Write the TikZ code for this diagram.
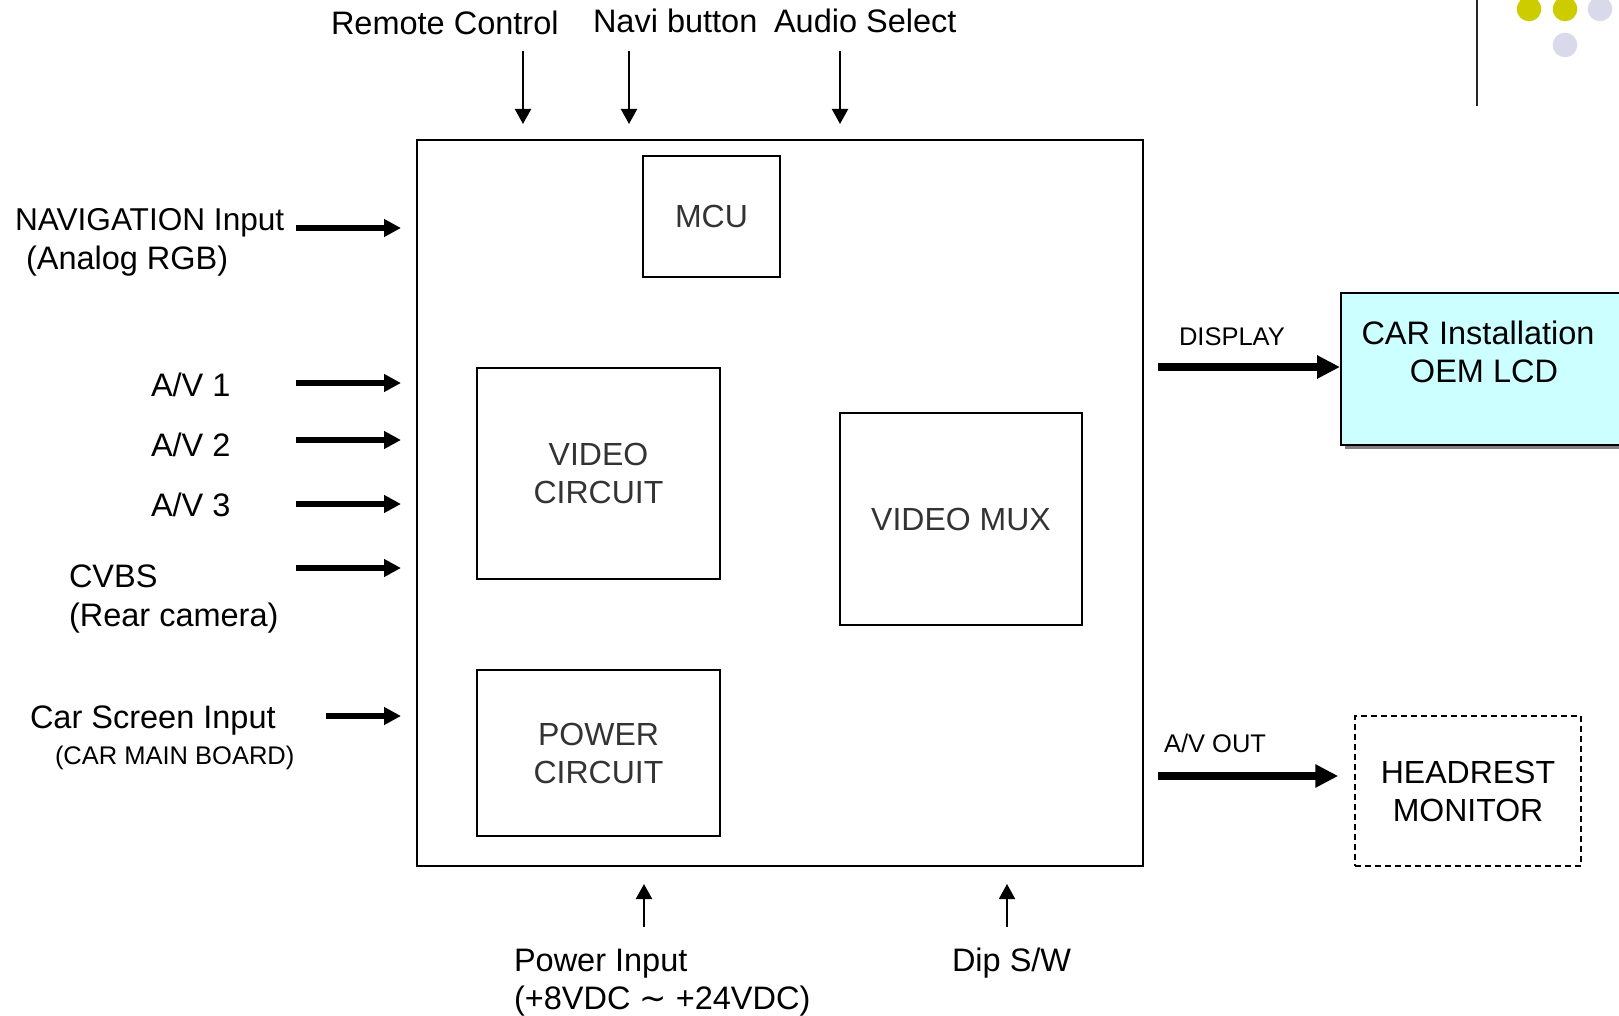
\documentclass[tikz,border=0pt]{standalone}
\usepackage{fontspec}
\setmainfont{Liberation Sans}
\newfontfamily\symfont{DejaVu Sans}
\usetikzlibrary{arrows.meta,shadows}

\definecolor{lcdcyan}{RGB}{204,255,255}
\definecolor{dotyel}{RGB}{204,204,0}
\definecolor{dotlav}{RGB}{217,217,236}

\begin{document}
\begin{tikzpicture}[x=1pt,y=-1pt,line width=2pt,
  blk/.style={draw,rectangle,align=center,inner sep=0pt,text=black!80,
    font=\fontsize{32}{38}\selectfont},
  lbl/.style={anchor=base west,inner sep=0pt,font=\fontsize{32.5}{38}\selectfont},
  slbl/.style={lbl,font=\fontsize{25.5}{30}\selectfont},
  lcdbox/.style={draw,fill=lcdcyan,
    drop shadow={shadow xshift=4pt,shadow yshift=-4pt,fill=black!50,opacity=1}},
  thinarr/.style={-{Triangle[length=15pt,width=16pt]},line width=2pt},
  fatarr/.style={-{Triangle[length=17pt,width=17pt]},line width=6pt},
  bigarr/.style={-{Triangle[length=23pt,width=22pt]},line width=8pt}]
  \useasboundingbox (0,0) rectangle (1619,1016);

  % main unit and its blocks
  \node[blk,minimum width=726pt,minimum height=726pt] (main) at (780,503) {};
  \node[blk,minimum width=137pt,minimum height=121pt] (mcu) at (711.5,216.5) {MCU};
  \node[blk,minimum width=243pt,minimum height=211pt] (vcirc) at (598.5,473.5) {VIDEO\\CIRCUIT};
  \node[blk,minimum width=242pt,minimum height=212pt] (vmux) at (961,519) {VIDEO MUX};
  \node[blk,minimum width=243pt,minimum height=166pt] (pcirc) at (598.5,753) {POWER\\CIRCUIT};

  % outputs
  \node[lcdbox,minimum width=300pt,minimum height=152pt,anchor=north west] (lcd) at (1340,292) {};
  \node[lbl,anchor=base] (lcdA) at (1478,344) {CAR Installation};
  \node[lbl,anchor=base] (lcdB) at (1484,382) {OEM LCD};
  \node[blk,text=black,line width=1.5pt,dash pattern=on 6pt off 4pt,
    minimum width=226pt,minimum height=150pt] (hr) at (1468,791) {HEADREST\\MONITOR};

  % labels
  \node[lbl] (rc) at (330,35) {Remote Control};
  \node[lbl] (nb) at (592,33) {Navi button};
  \node[lbl] (as) at (773,33) {Audio Select};
  \node[lbl,font=\fontsize{31.6}{38}\selectfont] (nav) at (14,231) {NAVIGATION Input};
  \node[lbl] (navB) at (25,270) {(Analog RGB)};
  \node[lbl] (av1) at (150,396) {A/V 1};
  \node[lbl] (av2) at (150,456) {A/V 2};
  \node[lbl] (av3) at (150,516) {A/V 3};
  \node[lbl] (cvbs) at (68,587) {CVBS};
  \node[lbl] (cvbsB) at (68,626) {(Rear camera)};
  \node[lbl] (cs) at (29,728) {Car Screen Input};
  \node[slbl] (csB) at (54,764) {(CAR MAIN BOARD)};
  \node[slbl] (disp) at (1178,345) {DISPLAY};
  \node[slbl] (out) at (1163,752) {A/V OUT};
  \node[lbl] (pw) at (513,971) {Power Input};
  \node[lbl] (pwB) at (513,1009) {(+8VDC {\symfont ∼} +24VDC)};
  \node[lbl] (dip) at (951,971) {Dip S/W};

  % input arrows
  \foreach \n/\x in {rc/523,nb/629,as/840}{
    \coordinate (\n-s) at (\x,51);
    \draw[thinarr,shorten >=15pt] (\n-s) -- (\n-s |- main.north);
  }
  \foreach \n/\y in {nav/228,av1/383,av2/440,av3/504,cvbs/568}{
    \coordinate (\n-s) at (296,\y);
    \draw[fatarr,shorten >=15pt] (\n-s) -- (\n-s -| main.west);
  }
  \coordinate (cs-s) at (326,716);
  \draw[fatarr,shorten >=15pt] (cs-s) -- (cs-s -| main.west);
  \foreach \n/\x in {pw/644,dip/1007}{
    \coordinate (\n-s) at (\x,927);
    \draw[thinarr,shorten >=17pt] (\n-s) -- (\n-s |- main.south);
  }

  % output arrows
  \coordinate (disp-s) at (1158,367);
  \draw[bigarr] (disp-s) -- (disp-s -| lcd.west);
  \coordinate (out-s) at (1158,776);
  \draw[bigarr,shorten >=16pt] (out-s) -- (out-s -| hr.west);

  % corner decoration
  \draw[line width=2.5pt,black!85] (1477,0) -- (1477,106);
  \fill[dotyel] (1529,9) circle (12.3pt);
  \fill[dotyel] (1565,9) circle (12.3pt);
  \fill[dotlav] (1600,9) circle (12.3pt);
  \fill[dotlav] (1565,45) circle (12.3pt);
\end{tikzpicture}
\end{document}
